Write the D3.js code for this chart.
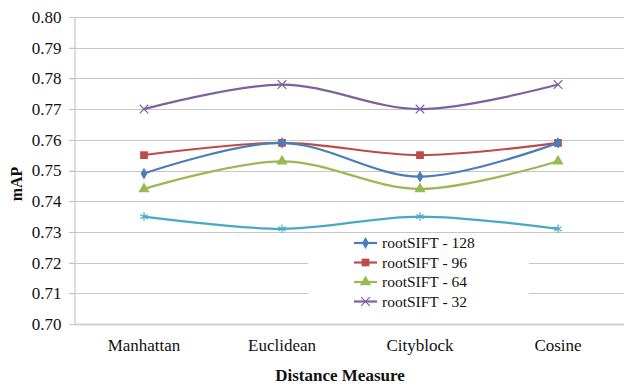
<!DOCTYPE html>
<html>
<head>
<meta charset="utf-8">
<script src="https://cdn.jsdelivr.net/npm/d3@7"></script>
<style>
  body { margin: 0; background: #fff; }
  svg { display: block; }
  svg text { font-family: "Liberation Serif", "Times New Roman", serif !important; }
</style>
</head>
<body>
<svg id="chart" width="624" height="388"></svg>
<script>
// data
const categories = ["Manhattan", "Euclidean", "Cityblock", "Cosine"];
const yTicks = [0.70, 0.71, 0.72, 0.73, 0.74, 0.75, 0.76, 0.77, 0.78, 0.79, 0.80];

const sift128 = [0.749, 0.759, 0.748, 0.759];
const sift96 = [0.755, 0.759, 0.755, 0.759];
const sift64 = [0.744, 0.753, 0.744, 0.753];
const sift32 = [0.770, 0.778, 0.770, 0.778];
const sift16 = [0.735, 0.731, 0.735, 0.731]; // legend entry cut off in the source

const series = [
  { name: "rootSIFT - 128", values: sift128, color: "#4A7EBB", marker: "diamond", legend: true },
  { name: "rootSIFT - 96", values: sift96, color: "#BE4B48", marker: "square", legend: true },
  { name: "rootSIFT - 64", values: sift64, color: "#98B954", marker: "triangle", legend: true },
  { name: "rootSIFT - 32", values: sift32, color: "#7D60A0", marker: "x", legend: true },
  { name: "rootSIFT - 16", values: sift16, color: "#46AAC5", marker: "star", legend: false },
];

const svg = d3.select("#chart");
const W = 624;

const x = d3.scaleBand().domain(categories).range([75, 627]);
const y = d3.scaleLinear().domain([0.70, 0.80]).range([324, 17]);

// gridlines
svg.append("g")
  .selectAll("line")
  .data(yTicks.slice(1))
  .enter()
  .append("line")
  .attr("x1", 69)
  .attr("x2", W)
  .attr("y1", (d) => Math.round(y(d)) + 0.5)
  .attr("y2", (d) => Math.round(y(d)) + 0.5)
  .attr("stroke", "#c6c6c6")
  .attr("stroke-width", 1.2);

// y axis
const yAxis = svg.append("g")
  .attr("transform", "translate(74.5,0)")
  .call(d3.axisLeft(y).tickValues(yTicks).tickFormat(d3.format(".2f")).tickSize(5).tickPadding(8));
yAxis.attr("font-family", null);
yAxis.select(".domain").attr("stroke", "#c6c6c6").attr("stroke-width", 1.2);
yAxis.selectAll(".tick line").attr("stroke", "#c6c6c6");
yAxis.selectAll("text")
  .attr("font-size", 17)
  .attr("fill", "#111");

// x axis line
svg.append("line")
  .attr("x1", 74)
  .attr("x2", W)
  .attr("y1", y(0.70) + 0.5)
  .attr("y2", y(0.70) + 0.5)
  .attr("stroke", "#d0d0d0")
  .attr("stroke-width", 2);

svg.append("g")
  .selectAll("text")
  .data(categories)
  .enter()
  .append("text")
  .attr("x", (d) => x(d) + x.bandwidth() / 2)
  .attr("y", 351)
  .attr("text-anchor", "middle")
  .attr("font-size", 17)
  .attr("fill", "#111")
  .text((d) => d);

// axis titles
svg.append("text")
  .attr("x", 340)
  .attr("y", 381)
  .attr("text-anchor", "middle")
  .attr("font-size", 17)
  .attr("font-weight", "bold")
  .attr("fill", "#111")
  .text("Distance Measure");

svg.append("text")
  .attr("transform", "translate(22,184) rotate(-90)")
  .attr("text-anchor", "middle")
  .attr("font-size", 16)
  .attr("font-weight", "bold")
  .attr("fill", "#111")
  .text("mAP");

// markers
const symbols = {
  diamond: d3.symbol().type(d3.symbolDiamond).size(40),
  square: d3.symbol().type(d3.symbolSquare).size(60),
  triangle: d3.symbol().type(d3.symbolTriangle).size(55),
  x: d3.symbol().type(d3.symbolTimes).size(50),
  star: d3.symbol().type(d3.symbolAsterisk).size(50),
};

function drawMarker(sel, s) {
  const open = s.marker === "x" || s.marker === "star";
  sel.attr("d", symbols[s.marker]())
    .attr("fill", open ? "none" : s.color)
    .attr("stroke", s.color)
    .attr("stroke-width", open ? 1.2 : 0);
}

// lines
const line = d3.line()
  .x((d, i) => x(categories[i]) + x.bandwidth() / 2)
  .y((d) => y(d))
  .curve(d3.curveCardinal.tension(0));

const g = svg.append("g");
series.slice().reverse().forEach((s) => {
  g.append("path")
    .attr("d", line(s.values))
    .attr("fill", "none")
    .attr("stroke", s.color)
    .attr("stroke-width", 2.2);
  g.selectAll(null)
    .data(s.values)
    .enter()
    .append("path")
    .attr("transform", (d, i) => `translate(${x(categories[i]) + x.bandwidth() / 2},${y(d)})`)
    .call(drawMarker, s);
});

// legend
const legend = svg.append("g");
legend.append("rect")
  .attr("x", 308)
  .attr("y", 235)
  .attr("width", 221)
  .attr("height", 76)
  .attr("fill", "#fff");

const items = series.filter((s) => s.legend);
const ly = d3.scalePoint().domain(items.map((s) => s.name)).range([243, 301.5]);

items.forEach((s) => {
  const row = legend.append("g").attr("transform", `translate(0,${ly(s.name)})`);
  row.append("line")
    .attr("x1", 354)
    .attr("x2", 377)
    .attr("stroke", s.color)
    .attr("stroke-width", 2.2);
  row.append("path")
    .attr("transform", "translate(365.5,0)")
    .call(drawMarker, s);
  row.append("text")
    .attr("x", 382)
    .attr("y", 5)
    .attr("font-size", 15.5)
    .attr("fill", "#111")
    .text(s.name);
});
</script>
</body>
</html>
